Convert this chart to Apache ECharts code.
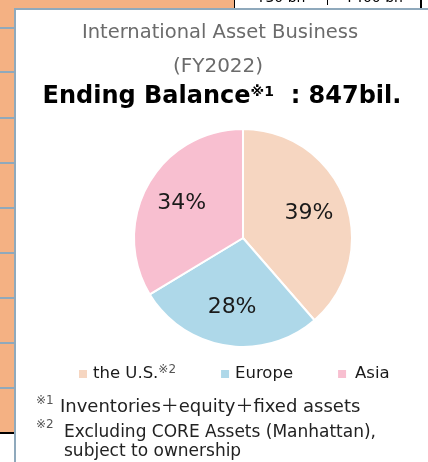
<!DOCTYPE html>
<html>
<head>
<meta charset="utf-8">
<script src="https://cdn.jsdelivr.net/npm/echarts@6/dist/echarts.min.js"></script>
<style>
  html, body { margin: 0; padding: 0; background: #fff; }
  #chart { width: 428px; height: 462px; }
</style>
</head>
<body>
<div id="chart"></div>
<script>
// International asset business, ending balance split by region (FY2022)
const regions = ['the U.S.', 'Europe', 'Asia'];
const shares = [39, 28, 34];
const sliceColors = ['#F6D6C1', '#AED8E9', '#F8BFD0'];

const titleLines = ['International Asset Business', '(FY2022)'];
const balanceText = 'Ending Balance';
const balanceValue = '  : 847bil.';
const notes = [
  ['※1', 'Inventories＋equity＋fixed assets'],
  ['※2', 'Excluding CORE Assets (Manhattan),', 'subject to ownership']
];
// cut-off table cells of the slide behind the panel
const cellLabels = ['¥30 bn', '¥400 bn'];

const FONT = '"DejaVu Sans", "Noto Sans CJK JP", sans-serif';
const ORANGE = '#F4B183';
const FRAME = '#8FA9BC';

let chart;

function backdrop() {
  const els = [
    { type: 'rect', shape: { x: 0, y: 0, width: 234, height: 9 }, style: { fill: ORANGE } },
    { type: 'rect', shape: { x: 0, y: 0, width: 15, height: 432 }, style: { fill: ORANGE } },
    { type: 'rect', shape: { x: 0, y: 432, width: 14, height: 2 }, style: { fill: '#000' } },
    { type: 'rect', shape: { x: 234, y: 0, width: 1, height: 8 }, style: { fill: '#000' } },
    { type: 'rect', shape: { x: 327, y: 0, width: 1, height: 5 }, style: { fill: '#000' } },
    { type: 'rect', shape: { x: 420, y: 0, width: 2, height: 8 }, style: { fill: '#000' } }
  ];
  [28, 72, 118, 163, 208, 253, 298, 343, 388].forEach(y => {
    els.push({ type: 'rect', shape: { x: 0, y: y - 1, width: 15, height: 2 }, style: { fill: FRAME } });
  });
  cellLabels.forEach((t, i) => {
    els.push({
      type: 'text', x: i === 0 ? 281 : 374, y: -2,
      style: { text: t, font: '14px ' + FONT, fill: '#000', align: 'center', verticalAlign: 'middle' }
    });
  });
  // panel
  els.push({ type: 'rect', shape: { x: 15, y: 9, width: 420, height: 460 }, style: { fill: '#fff' } });
  els.push({ type: 'rect', shape: { x: 14, y: 8, width: 414, height: 2 }, style: { fill: FRAME } });
  els.push({ type: 'rect', shape: { x: 14, y: 8, width: 2, height: 454 }, style: { fill: FRAME } });
  return els;
}

function texts() {
  const els = [];
  els.push({
    type: 'text', x: 220, y: 33,
    style: { text: titleLines[0], font: '19.5px ' + FONT, fill: '#6b6b6b', align: 'center', verticalAlign: 'middle' }
  });
  els.push({
    type: 'text', x: 218, y: 67,
    style: { text: titleLines[1], font: '20px ' + FONT, fill: '#6b6b6b', align: 'center', verticalAlign: 'middle' }
  });
  els.push({
    type: 'text', x: 222, y: 97,
    style: {
      text: '{b|' + balanceText + '}{s|※1}{b|' + balanceValue + '}',
      align: 'center', verticalAlign: 'middle',
      rich: {
        b: { fontFamily: FONT, fontWeight: 'bold', fontSize: 24, fill: '#000' },
        s: { fontFamily: FONT, fontWeight: 'bold', fontSize: 14, fill: '#000', padding: [0, 0, 10, 0] }
      }
    }
  });
  // footnotes
  const noteY = [[401, 407], [425, 433]];
  notes.forEach((n, i) => {
    els.push({
      type: 'text', x: 36, y: noteY[i][0],
      style: { text: n[0], font: '12px ' + FONT, fill: '#555', verticalAlign: 'middle' }
    });
    els.push({
      type: 'text', x: i === 0 ? 60 : 64, y: noteY[i][1],
      style: { text: n[1], font: (i === 0 ? '18px ' : '17px ') + FONT, fill: '#222', verticalAlign: 'middle' }
    });
    if (n[2]) {
      els.push({
        type: 'text', x: 64, y: 452,
        style: { text: n[2], font: '17px ' + FONT, fill: '#222', verticalAlign: 'middle' }
      });
    }
  });
  return els;
}

function render() {
  chart = echarts.init(document.getElementById('chart'));
  const pieData = regions.map((name, i) => ({ name, value: shares[i], itemStyle: { color: sliceColors[i] } }));

  const option = {
    animation: false,
    graphic: { elements: backdrop().concat(texts()) },
    legend: {
      data: regions,
      left: 77,
      top: 364,
      padding: 0,
      itemWidth: 10,
      itemHeight: 10,
      itemGap: 43,
      icon: 'rect',
      formatter: name => {
        if (name === 'the U.S.') return '{t|' + name + '}{s|※2}';
        if (name === 'Asia') return '{a|' + name + '}';
        return '{t|' + name + '}';
      },
      textStyle: {
        rich: {
          t: { fontFamily: FONT, fontSize: 16.5, color: '#1a1a1a' },
          a: { fontFamily: FONT, fontSize: 16.5, color: '#1a1a1a', padding: [0, 0, 0, 3] },
          s: { fontFamily: FONT, fontSize: 12, color: '#555', padding: [0, 0, 8, 0] }
        }
      }
    },
    series: [
      {
        type: 'pie',
        center: [243, 238],
        radius: [0, 109],
        startAngle: 90,
        silent: true,
        itemStyle: { borderColor: '#fff', borderWidth: 2 },
        label: { show: false },
        data: pieData
      },
      {
        // label ring so the percentages sit further out than the default inside position
        type: 'pie',
        center: [243, 238],
        radius: [26, 109],
        startAngle: 90,
        silent: true,
        itemStyle: { color: 'rgba(0,0,0,0)' },
        label: {
          position: 'inside',
          formatter: '{c}%',
          fontFamily: FONT,
          fontSize: 22,
          color: '#1a1a1a'
        },
        data: regions.map((name, i) => ({ name, value: shares[i] }))
      }
    ]
  };
  chart.setOption(option);
}

window.addEventListener('DOMContentLoaded', render);
</script>
</body>
</html>
